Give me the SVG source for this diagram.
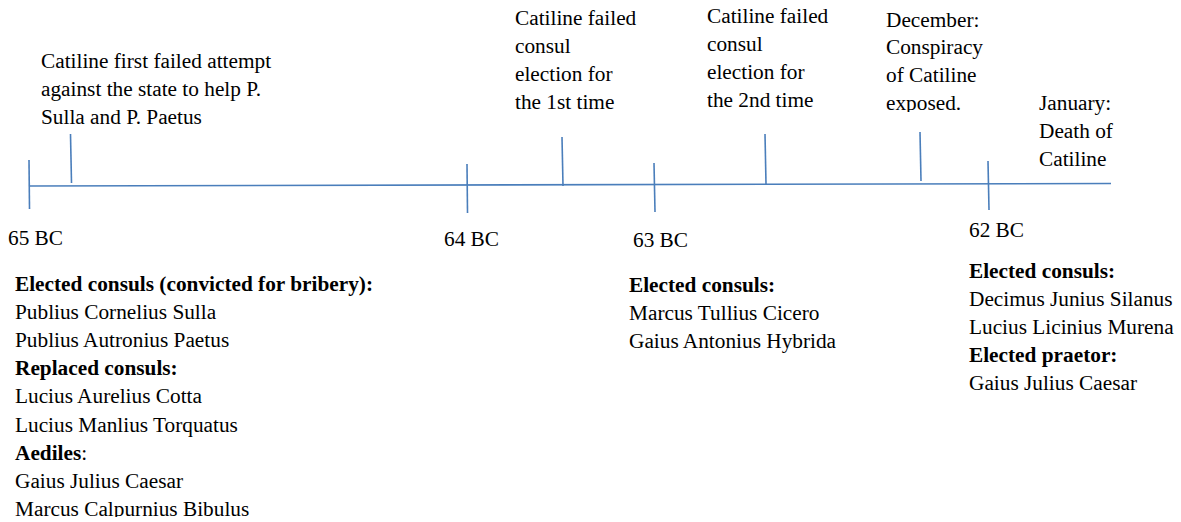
<svg xmlns="http://www.w3.org/2000/svg" width="1181" height="522" viewBox="0 0 1181 522">
<style>
.t{font-family:'Liberation Serif',serif;font-size:21.3px;fill:#000}
.b{font-weight:bold}
.ln{stroke:#4a7ebb;stroke-width:1.6;fill:none}
</style>
<defs>
<clipPath id="clipExp"><rect x="880" y="0" width="120" height="112"/></clipPath>
<clipPath id="clipBottom"><rect x="0" y="0" width="600" height="517"/></clipPath>
</defs>
<rect width="1181" height="522" fill="#fff"/>
<g id="connectors">
<line class="ln" x1="29" y1="186" x2="1111" y2="183.5"/>
<line class="ln" x1="29" y1="160" x2="29.5" y2="209"/>
<line class="ln" x1="70.5" y1="134" x2="71.5" y2="183"/>
<line class="ln" x1="467" y1="164" x2="467.5" y2="213"/>
<line class="ln" x1="562" y1="137" x2="563" y2="186"/>
<line class="ln" x1="654" y1="163" x2="655" y2="212"/>
<line class="ln" x1="765" y1="134" x2="766" y2="184"/>
<line class="ln" x1="920" y1="132" x2="921" y2="181"/>
<line class="ln" x1="988" y1="161" x2="989" y2="210"/>
</g>
<g class="t">
<g id="year65"><text x="8" y="245">65 BC</text></g>
<g id="year64"><text x="444" y="246">64 BC</text></g>
<g id="year63"><text x="633" y="247">63 BC</text></g>
<g id="year62"><text x="969" y="237">62 BC</text></g>
<g id="event1">
<text x="41" y="68">Catiline first failed attempt</text>
<text x="41" y="96">against the state to help P.</text>
<text x="41" y="124">Sulla and P. Paetus</text>
</g>
<g id="event2">
<text x="515" y="25">Catiline failed</text>
<text x="515" y="53">consul</text>
<text x="515" y="81">election for</text>
<text x="515" y="109">the 1st time</text>
</g>
<g id="event3">
<text x="707" y="23">Catiline failed</text>
<text x="707" y="51">consul</text>
<text x="707" y="79">election for</text>
<text x="707" y="107">the 2nd time</text>
</g>
<g id="event4" clip-path="url(#clipExp)">
<text x="886" y="27">December:</text>
<text x="886" y="54">Conspiracy</text>
<text x="886" y="82">of Catiline</text>
<text x="886" y="110">exposed.</text>
</g>
<g id="event5">
<text x="1039" y="110">January:</text>
<text x="1039" y="138">Death of</text>
<text x="1039" y="166">Catiline</text>
</g>
<g id="info65" clip-path="url(#clipBottom)">
<text x="15" y="291" class="b">Elected consuls (convicted for bribery):</text>
<text x="15" y="319">Publius Cornelius Sulla</text>
<text x="15" y="347">Publius Autronius Paetus</text>
<text x="15" y="375" class="b">Replaced consuls:</text>
<text x="15" y="403">Lucius Aurelius Cotta</text>
<text x="15" y="432">Lucius Manlius Torquatus</text>
<text x="15" y="460"><tspan class="b">Aediles</tspan>:</text>
<text x="15" y="488">Gaius Julius Caesar</text>
<text x="15" y="516">Marcus Calpurnius Bibulus</text>
</g>
<g id="info63">
<text x="629" y="292" class="b">Elected consuls:</text>
<text x="629" y="320">Marcus Tullius Cicero</text>
<text x="629" y="348">Gaius Antonius Hybrida</text>
</g>
<g id="info62">
<text x="969" y="278" class="b">Elected consuls:</text>
<text x="969" y="306">Decimus Junius Silanus</text>
<text x="969" y="334">Lucius Licinius Murena</text>
<text x="969" y="362" class="b">Elected praetor:</text>
<text x="969" y="390">Gaius Julius Caesar</text>
</g>
</g>
</svg>
